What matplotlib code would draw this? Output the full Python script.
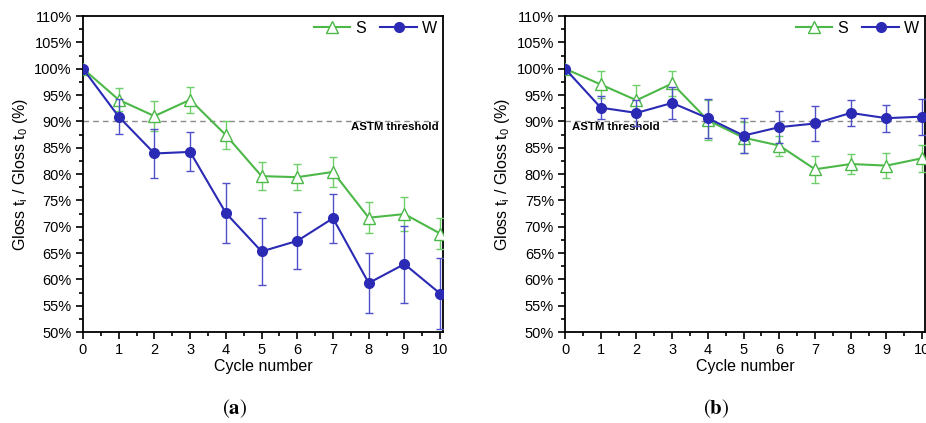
import numpy as np
import matplotlib
matplotlib.use('Agg')
import matplotlib.pyplot as plt
from matplotlib.lines import Line2D
from matplotlib.ticker import MultipleLocator, FuncFormatter

# ----------------------------------------------------------------
# data

cycles = [0, 1, 2, 3, 4, 5, 6, 7, 8, 9, 10]

# panel (a)
s_a = [100, 94.1, 91.0, 94.1, 87.4, 79.6, 79.4, 80.4, 71.7, 72.4, 68.7]
s_a_err = [0, 2.2, 2.9, 2.5, 2.6, 2.7, 2.5, 2.9, 2.9, 3.2, 2.9]
w_a = [100, 90.9, 83.9, 84.2, 72.6, 65.3, 67.3, 71.6, 59.3, 62.9, 57.3]
w_a_err = [0, 3.3, 4.7, 3.7, 5.7, 6.3, 5.4, 4.7, 5.7, 7.3, 6.8]

# panel (b)
s_b = [100, 97.0, 94.0, 97.2, 90.2, 86.9, 85.4, 80.9, 81.9, 81.6, 83.0]
s_b_err = [0, 2.6, 2.9, 2.4, 3.8, 2.9, 1.9, 2.6, 1.9, 2.3, 2.6]
w_b = [100, 92.6, 91.6, 93.5, 90.6, 87.3, 88.9, 89.6, 91.6, 90.6, 90.9]
w_b_err = [0, 2.2, 2.5, 3.0, 3.7, 3.3, 3.0, 3.4, 2.4, 2.6, 3.4]

threshold = 90
series_names = ['S', 'W']

# ----------------------------------------------------------------

green = '#4cb848'
green_err = '#6fcf6a'
blue = '#2a2ab4'
blue_err = '#5050c8'

plt.rcParams['font.family'] = ['Liberation Sans', 'DejaVu Sans']
plt.rcParams['mathtext.fontset'] = 'custom'
plt.rcParams['mathtext.rm'] = 'Liberation Sans'

fig = plt.figure(figsize=(9.26, 4.23), dpi=100)

ax_pos = [[0.0896, 0.2151, 0.3888, 0.747],
          [0.6102, 0.2151, 0.3888, 0.747]]

def draw_panel(ax, s, s_err, w, w_err, text_right):
        ax.axhline(threshold, color='#8a8a8a', linestyle=(0, (4, 3)), linewidth=1.0, zorder=1)
        ax.errorbar(cycles, s, yerr=s_err, color=green, ecolor=green_err, elinewidth=1.0,
                    capsize=3, capthick=1.0, marker='^', markersize=8, markerfacecolor='white',
                    markeredgecolor=green, markeredgewidth=1.0, linewidth=1.5, zorder=3)
        ax.errorbar(cycles, w, yerr=w_err, color=blue, ecolor=blue_err, elinewidth=1.0,
                    capsize=3, capthick=1.0, marker='o', markersize=7, markerfacecolor=blue,
                    markeredgecolor=blue, linewidth=1.5, zorder=4)

        ax.set_xlim(0, 10.08)
        ax.set_ylim(50, 110)
        ax.xaxis.set_major_locator(MultipleLocator(1))
        ax.xaxis.set_minor_locator(MultipleLocator(0.5))
        ax.yaxis.set_major_locator(MultipleLocator(5))
        ax.yaxis.set_minor_locator(MultipleLocator(2.5))
        ax.yaxis.set_major_formatter(FuncFormatter(lambda v, p: f'{v:.0f}%'))
        ax.tick_params(which='major', direction='out', length=5, width=1.2, labelsize=10.5, pad=3)
        ax.tick_params(which='minor', direction='out', length=3, width=1.2)
        for sp in ax.spines.values():
                sp.set_linewidth(1.3)

        ax.set_xlabel('Cycle number', fontsize=11.5, labelpad=1)
        ax.set_ylabel(r'Gloss t$_\mathregular{i}$ / Gloss t$_\mathregular{0}$ (%)', fontsize=11.5, labelpad=3)

        if text_right:
                ax.text(9.95, 88.9, 'ASTM threshold', ha='right', va='center', fontsize=8.2, fontweight='bold')
        else:
                ax.text(0.2, 88.9, 'ASTM threshold', ha='left', va='center', fontsize=8.2, fontweight='bold')

        handles = [Line2D([], [], color=green, linewidth=1.5, marker='^', markersize=8,
                          markerfacecolor='white', markeredgecolor=green),
                   Line2D([], [], color=blue, linewidth=1.5, marker='o', markersize=7,
                          markerfacecolor=blue, markeredgecolor=blue)]
        ax.legend(handles, series_names, loc='upper right', ncol=2, frameon=False, fontsize=11.5,
                  handlelength=2.3, columnspacing=0.9, handletextpad=0.3, borderaxespad=0.1,
                  bbox_to_anchor=(1.005, 1.01))

ax1 = fig.add_axes(ax_pos[0])
draw_panel(ax1, s_a, s_a_err, w_a, w_a_err, True)
ax2 = fig.add_axes(ax_pos[1])
draw_panel(ax2, s_b, s_b_err, w_b, w_b_err, False)

fig.text(235 / 926, 1 - 409 / 423, r'$(\mathbf{a})$', ha='center', va='center', fontsize=15,
         math_fontfamily='stix')
fig.text(716 / 926, 1 - 409 / 423, r'$(\mathbf{b})$', ha='center', va='center', fontsize=15,
         math_fontfamily='stix')

fig.savefig('out.png', dpi=100)
plt.close()
